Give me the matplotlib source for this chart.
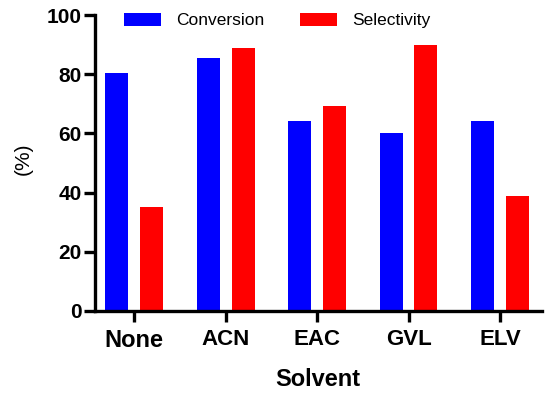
import numpy as np
import matplotlib
matplotlib.use('Agg')
import matplotlib.pyplot as plt

plt.rcParams['font.family'] = ['Liberation Sans', 'DejaVu Sans']

solvents = ['None', 'ACN', 'EAC', 'GVL', 'ELV']
conversion = [80.4, 85.5, 64.2, 60.1, 64.2]
selectivity = [35.1, 88.9, 69.3, 89.9, 38.9]

blue, red = '#0000ff', '#ff0000'

fig = plt.figure(figsize=(5.5, 3.95), dpi=100)
ax = fig.add_axes([0.1727, 0.2127, 0.8128, 0.7493])

x = np.arange(len(solvents))
w, off = 0.25, 0.19
ax.bar(x - off, conversion, w, color=blue, label='Conversion')
ax.bar(x + off, selectivity, w, color=red, label='Selectivity')

ax.set_xlim(-0.43, 4.46)
ax.set_ylim(0, 100)
ax.set_yticks(range(0, 101, 20))
ax.set_xticks(x)
ax.set_xticklabels(solvents, fontweight='bold', fontsize=16)
ax.get_xticklabels()[0].set_fontsize(17)

for s in ['top', 'right']:
    ax.spines[s].set_visible(False)
for s in ['left', 'bottom']:
    ax.spines[s].set_linewidth(2.4)
ax.tick_params(axis='both', width=2.4, length=8, color='black')
ax.tick_params(axis='y', pad=1.5, labelsize=15)
ax.tick_params(axis='x', pad=5)
for t in ax.get_yticklabels():
    t.set_fontweight('bold')

ax.set_xlabel('Solvent', fontsize=17, fontweight='bold')
ax.xaxis.set_label_coords(0.499, -0.1926)
ax.set_ylabel('(%)', fontsize=15)
ax.yaxis.set_label_coords(-0.139, 0.514)

fig.legend(loc='center', bbox_to_anchor=(0.5045, 0.948), ncol=2, frameon=False,
           fontsize=12.5, handlelength=2.1, handleheight=0.75, handletextpad=0.9,
           columnspacing=2.07, borderpad=0)

fig.savefig('out.png', dpi=100)
